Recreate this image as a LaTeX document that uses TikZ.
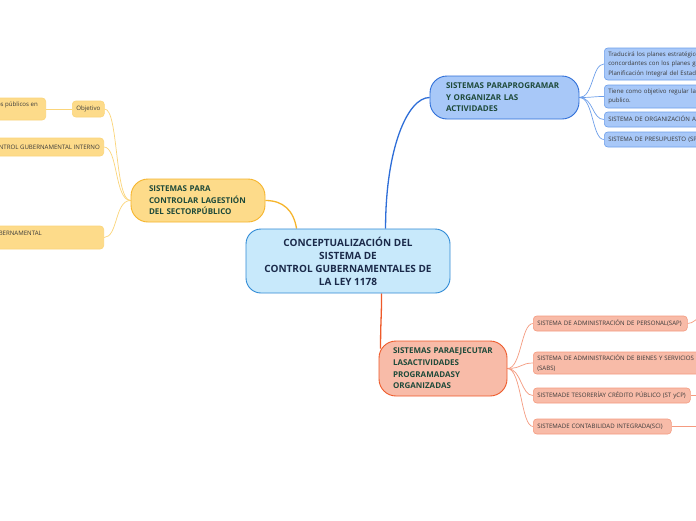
\documentclass[tikz,border=0pt]{standalone}
\usepackage{fontspec}
\setmainfont{Open Sans}
\usetikzlibrary{backgrounds,calc}
\definecolor{cfill}{HTML}{C8E9FB}
\definecolor{cline}{HTML}{2F8AD6}
\definecolor{ctext}{HTML}{1B2A4A}
\definecolor{mtext}{HTML}{1E4A3A}
\definecolor{bfill}{HTML}{A8C8F8}
\definecolor{bline}{HTML}{2E6ED8}
\definecolor{bcline}{HTML}{6E9FEA}
\definecolor{yfill}{HTML}{FDDB8A}
\definecolor{yline}{HTML}{F6B52C}
\definecolor{ycline}{HTML}{FBD57A}
\definecolor{ofill}{HTML}{F8BBA8}
\definecolor{oline}{HTML}{EE5A2A}
\definecolor{ocline}{HTML}{F59B80}
\definecolor{stext}{HTML}{3A3A3A}
\newcommand{\subfont}{\fontsize{6.1}{9.4}\selectfont}
\tikzset{
  mainbox/.style={draw, line width=0.9pt, rounded corners=17pt, inner sep=0pt, font=\bfseries\fontsize{8}{11.6}\selectfont, text=mtext, align=left},
  centerbox/.style={draw=cline, fill=cfill, line width=0.9pt, rounded corners=15pt, inner sep=0pt, font=\bfseries\fontsize{10}{13}\selectfont, text=ctext, align=center, minimum width=204pt, minimum height=64pt},
  subbox/.style={draw, line width=0.6pt, rounded corners=3.5pt, inner xsep=4pt, inner ysep=0pt, font=\subfont, text=stext, align=left, anchor=west},
  bsub/.style={subbox, fill=bfill, draw=bcline},
  osub/.style={subbox, fill=ofill, draw=ocline},
  ysub/.style={subbox, fill=yfill, draw=ycline},
  cuttext/.style={font=\subfont, text=stext, anchor=east, inner sep=0pt},
  mainlink/.style={line width=1.3pt},
  sublink/.style={line width=0.7pt},
}
\begin{document}
\begin{tikzpicture}[x=1pt,y=-1pt]
\useasboundingbox (0,0) rectangle (696,520);
\clip (0,0) rectangle (696,520);

% central node
\node[centerbox] (c) at (348,261) {CONCEPTUALIZACIÓN DEL\\SISTEMA DE\\CONTROL GUBERNAMENTALES DE\\LA LEY 1178};

% main branches
\node[mainbox, draw=bline, fill=bfill, minimum width=149pt, minimum height=43pt, text width=117pt] (b) at (504.5,97.5) {SISTEMAS PARAPROGRAMAR\\Y ORGANIZAR LAS\\ACTIVIDADES};
\node[mainbox, draw=yline, fill=yfill, minimum width=134pt, minimum height=43pt, text width=98pt] (y) at (198,200.5) {SISTEMAS PARA\\CONTROLAR LAGESTIÓN\\DEL SECTORPÚBLICO};
\node[mainbox, draw=oline, fill=ofill, minimum width=128pt, minimum height=55pt, text width=100pt] (o) at (443,368.5) {SISTEMAS PARAEJECUTAR\\LASACTIVIDADES\\PROGRAMADASY\\ORGANIZADAS};

% blue children
\node[bsub, minimum width=190pt, minimum height=32pt, text width=182pt] (b1) at (604,64) {Traducirá los planes estratégicos de cada entidad\\concordantes con los planes generales de la\\Planificación Integral del Estado};
\node[bsub, minimum width=190pt, minimum height=23pt, text width=182pt] (b2) at (604,96.5) {Tiene como objetivo regular la administración del\\publico.};
\node[bsub, minimum width=190pt, minimum height=15pt, text width=182pt] (b3) at (604,119.5) {SISTEMA DE ORGANIZACIÓN ADMINISTRATIVA (SOA)};
\node[bsub, minimum width=190pt, minimum height=15pt, text width=182pt] (b4) at (604,139.5) {SISTEMA DE PRESUPUESTO (SP)};

% orange children
\node[osub, minimum width=154pt, minimum height=15pt, text width=146pt] (o1) at (533,323.5) {SISTEMA DE ADMINISTRACIÓN DE PERSONAL(SAP)};
\node[osub, minimum width=200pt, minimum height=22pt, text width=192pt] (o2) at (533,363) {SISTEMA DE ADMINISTRACIÓN DE BIENES Y SERVICIOS\\(SABS)};
\node[osub, minimum width=157pt, minimum height=15pt, text width=149pt] (o3) at (533,395.5) {SISTEMADE TESORERÍAY CRÉDITO PÚBLICO (ST yCP)};
\node[osub, minimum width=138pt, minimum height=15pt, text width=130pt] (o4) at (533,426.5) {SISTEMADE CONTABILIDAD INTEGRADA(SCI)};
\coordinate (o1t) at (700,318);
\coordinate (o3t) at (700,395.5);
\coordinate (o4t) at (700,426.5);

% yellow children
\node[ysub, minimum width=32pt, minimum height=16pt] (yo) at (72,109) {Objetivo};
\node[ysub, minimum width=160pt, minimum height=22pt, anchor=east] (yl) at (46,109) {};
\node[ysub, minimum width=200pt, minimum height=18pt, anchor=east] (y2) at (104,147) {};
\node[ysub, minimum width=200pt, minimum height=23pt, anchor=east] (y3) at (104,237.5) {};
\node[cuttext] (ylt) at (38,105) {Regular el uso de los recursos públicos en};
\node[cuttext] (y2t) at (100,147) {SISTEMA DE CONTROL GUBERNAMENTAL INTERNO};
\node[cuttext] (y3t) at (42,233) {SISTEMA DE CONTROL GUBERNAMENTAL};

\begin{scope}[on background layer]
  \fill[white] (0,0) rectangle (696,520);
  \draw[mainlink, draw=bline] ($(c.north west)+(140,0)$) .. controls ($(c.north west)+(140,-80)$) and ($(b.west)+(-22,0)$) .. (b.west);
  \draw[mainlink, draw=yline] ($(c.north west)+(51,0)$) .. controls ($(c.north west)+(48,-18)$) and ($(y.east)+(18,0)$) .. (y.east);
  \draw[mainlink, draw=oline] ($(c.south west)+(136,0)$) .. controls ($(c.south west)+(136,25)$) and ($(o.north west)+(2,-20)$) .. ($(o.north west)+(2,8)$);
  \foreach \t in {b1,b2,b3,b4}
    \draw[sublink, draw=bcline] (b.east) .. controls +(14,0) and +(-12,0) .. (\t.west);
  \foreach \t in {o1,o2,o3,o4}
    \draw[sublink, draw=ocline] (o.east) .. controls +(14,0) and +(-12,0) .. (\t.west);
  \foreach \t in {yo,y2,y3}
    \draw[sublink, draw=ycline] (y.west) .. controls +(-16,0) and +(14,0) .. (\t.east);
  \draw[sublink, draw=ycline] (yo.west) -- (yl.east);
  \draw[sublink, draw=ocline] (o1.east) .. controls +(6,0) and +(-4,0) .. (o1t);
  \draw[sublink, draw=ocline] (o3.east) -- (o3t);
  \draw[sublink, draw=ocline] (o4.east) -- (o4t);
\end{scope}
\end{tikzpicture}
\end{document}
